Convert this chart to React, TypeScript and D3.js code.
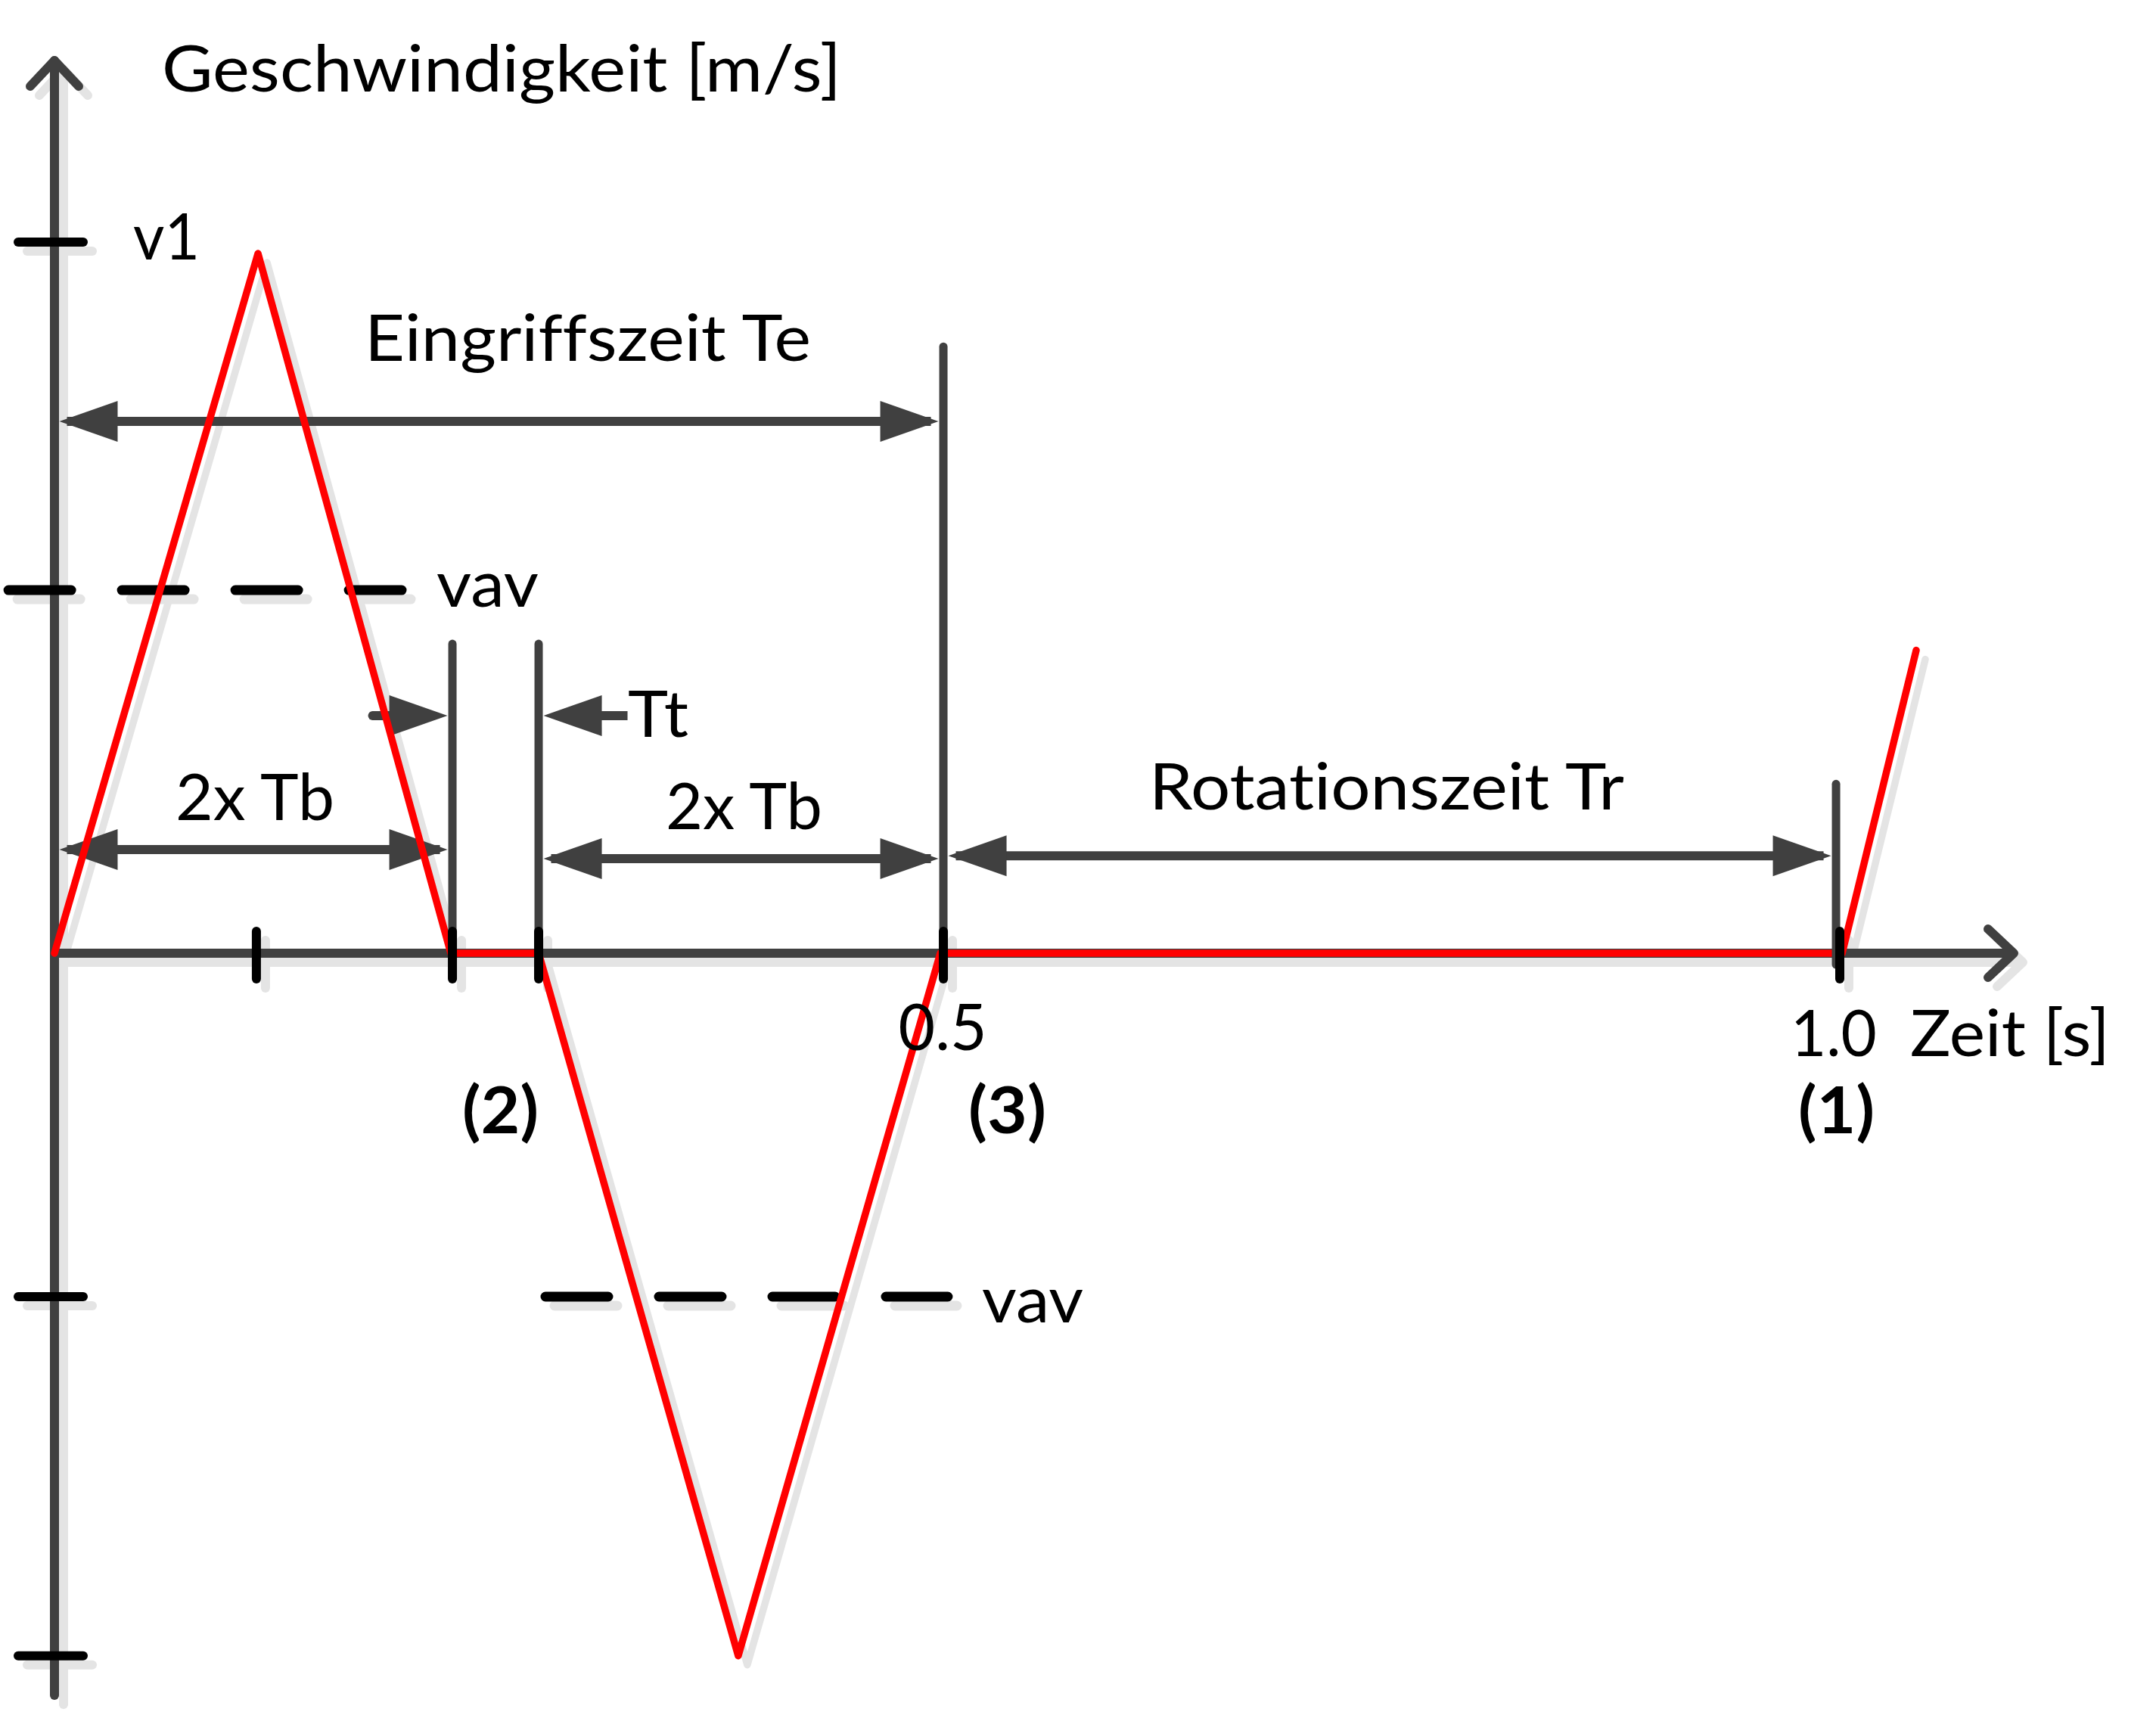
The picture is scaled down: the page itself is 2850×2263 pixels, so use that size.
import React from 'react';
import * as d3 from 'd3';

// ---- data ----
// velocity profile: time [s] and speed (relative to v1)
const profileTime = [0, 0.114, 0.222, 0.2712, 0.383, 0.4962, 1.0013, 1.0428];
const profileSpeed = [0, 0.984, 0, 0, -0.988, 0, 0, 0.426];

// speed axis marks
const speedTickValues = [1, -0.483, -0.988];
const speedTickLabels = ['v1'];
const avgSpeedValues = [0.5106, -0.483];
const avgSpeedLabels = ['vav', 'vav'];
const avgSpeedTimeRanges = [[-0.0258, 0.1945], [0.275, 0.5004]];

// time axis marks
const timeTickValues = [0.1131, 0.2229, 0.2712, 0.4979, 1.0];
const timeTickLabels = ['0.5', '1.0'];
const timeTickLabelValues = [0.4975, 0.9966];
const phaseLabels = ['(2)', '(3)', '(1)'];

// dimension (extension) lines: time and top speed
const extensionTimes = [0.2229, 0.2712, 0.4979, 0.9979];
const extensionTops = [0.435, 0.435, 0.853, 0.238];
const extensionBottoms = [0, 0, 0, -0.016];

// dimension arrows: speed level, start time, end time, label
const dimSpeeds = [0.748, 0.1457, 0.133, 0.137];
const dimStarts = [0, 0, 0.2712, 0.4979];
const dimEnds = [0.4979, 0.2229, 0.4979, 0.9979];
const dimLabels = ['Eingriffszeit Te', '2x Tb', '2x Tb', 'Rotationszeit Tr'];
const ttSpeed = 0.334;

const W = 2850;
const H = 2263;
const GRAY = '#404040';
const RED = '#ff0000';
const BLACK = '#000000';
const SHADOW = '#e4e4e4';
const FONT = 'Lato, "Open Sans", "Noto Sans", sans-serif';

function Label({ x, y, w, text, size = 86, bold = false, anchor = 'start' }: any) {
  return (
    <text
      x={x}
      y={y}
      fontFamily={FONT}
      fontSize={size}
      fontWeight={bold ? 700 : 400}
      fill={BLACK}
      textAnchor={anchor}
      textLength={w}
      lengthAdjust="spacingAndGlyphs"
      style={{ fontVariantLigatures: 'none', fontFeatureSettings: '"liga" 0, "clig" 0, "dlig" 0' }}
    >
      {text}
    </text>
  );
}

export default function App() {
  const x = d3.scaleLinear().domain([0, 1]).range([72, 2432]);
  const y = d3.scaleLinear().domain([0, 1]).range([1260, 320]);
  const line = d3
    .line<number>()
    .x((_, i) => x(profileTime[i]))
    .y((d) => y(d));
  const redPath = line(profileSpeed) as string;

  const x0 = x(0);
  const y0 = y(0);
  const axisTop = 80;
  const axisBottom = 2241;
  const xAxisEnd = 2662;
  const chev = 32;
  const chevY = 34;

  const half = 5.5; // half width of extension lines
  const headL = 77;
  const headW = 27;

  // marks that cast a shadow
  const shadowed = (c: string | null, key: string, part: 'axes' | 'dashes' | 'red' | 'ticks') => {
    const col = (def: string) => (c ? c : def);
    if (part === 'axes')
      return (
        <g key={key + part} fill="none" stroke={col(GRAY)} strokeWidth={12} strokeLinecap="round" strokeLinejoin="round">
          <line x1={x0} y1={axisTop} x2={x0} y2={axisBottom} />
          <polyline points={`${x0 - chev},${axisTop + chevY} ${x0},${axisTop} ${x0 + chev},${axisTop + chevY}`} />
          <line x1={x0} y1={y0} x2={xAxisEnd} y2={y0} strokeLinecap="butt" />
          <polyline points={`${xAxisEnd - chevY},${y0 - chev} ${xAxisEnd},${y0} ${xAxisEnd - chevY},${y0 + chev}`} />
        </g>
      );
    if (part === 'dashes')
      return (
        <g key={key + part} fill="none" stroke={col(BLACK)} strokeWidth={13} strokeLinecap="round">
          {avgSpeedValues.map((v, i) => (
            <line
              key={i}
              x1={x(avgSpeedTimeRanges[i][0])}
              x2={x(avgSpeedTimeRanges[i][1])}
              y1={y(v)}
              y2={y(v)}
              strokeDasharray="83 67"
            />
          ))}
        </g>
      );
    if (part === 'red')
      return <path key={key + part} d={redPath} fill="none" stroke={col(RED)} strokeWidth={9.5} strokeLinejoin="round" strokeLinecap="round" />;
    return (
      <g key={key + part} fill="none" stroke={col(BLACK)} strokeWidth={12} strokeLinecap="round">
        {speedTickValues.map((v, i) => (
          <line key={'s' + i} x1={24} x2={110} y1={y(v)} y2={y(v)} />
        ))}
        {timeTickValues.map((t, i) => (
          <line key={'t' + i} x1={x(t)} x2={x(t)} y1={1231} y2={1294} />
        ))}
      </g>
    );
  };

  const arrowHead = (tipX: number, yy: number, dir: number, k: string) => (
    <polygon
      key={k}
      points={`${tipX},${yy} ${tipX - dir * headL},${yy - headW} ${tipX - dir * headL},${yy + headW}`}
      fill={GRAY}
    />
  );

  const dims = dimSpeeds.map((v, i) => {
    const yy = y(v);
    const a = x(dimStarts[i]) + half + 1;
    const b = x(dimEnds[i]) - half - 1;
    return (
      <g key={'dim' + i}>
        <line x1={a + 10} x2={b - 10} y1={yy} y2={yy} stroke={GRAY} strokeWidth={12} />
        {arrowHead(a, yy, -1, 'l')}
        {arrowHead(b, yy, 1, 'r')}
      </g>
    );
  });

  const ttY = y(ttSpeed);
  const ttL = x(extensionTimes[0]) - half - 1;
  const ttR = x(extensionTimes[1]) + half + 1;

  return (
    <svg
      width={W}
      height={H}
      viewBox={`0 0 ${W} ${H}`}
      style={{ position: 'absolute', left: 0, top: 0, background: '#fff' }}
    >
      <rect x={0} y={0} width={W} height={H} fill="#fff" />
      {/* shadows */}
      <g transform="translate(12,12)">
        {shadowed(SHADOW, 'sh', 'axes')}
        {shadowed(SHADOW, 'sh', 'dashes')}
        {shadowed(SHADOW, 'sh', 'red')}
        {shadowed(SHADOW, 'sh', 'ticks')}
      </g>

      {/* dimension arrows */}
      {dims}
      {/* Tt arrows */}
      <g>
        <line x1={ttL - 99} x2={ttL - 60} y1={ttY} y2={ttY} stroke={GRAY} strokeWidth={12} strokeLinecap="round" />
        {arrowHead(ttL, ttY, 1, 'ttl')}
        <line x1={ttR + 60} x2={ttR + 111} y1={ttY} y2={ttY} stroke={GRAY} strokeWidth={12} />
        {arrowHead(ttR, ttY, -1, 'ttr')}
      </g>

      {shadowed(null, 'm', 'axes')}
      {shadowed(null, 'm', 'dashes')}
      {shadowed(null, 'm', 'red')}

      {/* extension lines */}
      <g stroke={GRAY} strokeWidth={11} strokeLinecap="round">
        {extensionTimes.map((t, i) => (
          <line key={i} x1={x(t)} x2={x(t)} y1={y(extensionTops[i])} y2={y(extensionBottoms[i])} />
        ))}
      </g>
      {shadowed(null, 'm', 'ticks')}

      {/* texts */}
      <Label x={214} y={121} w={898} text="Geschwindigkeit [m/s]" />
      <Label x={176} y={343} w={88} text={speedTickLabels[0]} />
      <Label x={482} y={477} w={590} text={dimLabels[0]} />
      <Label x={577} y={802} w={135} text={avgSpeedLabels[0]} />
      <Label x={830} y={974} w={80} text="Tt" />
      <Label x={232} y={1084} w={210} text={dimLabels[1]} />
      <Label x={880} y={1096} w={207} text={dimLabels[2]} />
      <Label x={1519} y={1070} w={628} text={dimLabels[3]} />
      <Label x={x(timeTickLabelValues[0])} y={1388} w={117} text={timeTickLabels[0]} anchor="middle" />
      <Label x={x(timeTickLabelValues[1])} y={1396} w={114} text={timeTickLabels[1]} anchor="middle" />
      <Label x={2525} y={1396} w={264} text="Zeit [s]" />
      <Label x={611} y={1498} w={101} text={phaseLabels[0]} bold />
      <Label x={1280} y={1498} w={103} text={phaseLabels[1]} bold />
      <Label x={2377} y={1498} w={101} text={phaseLabels[2]} bold />
      <Label x={1298} y={1748} w={134} text={avgSpeedLabels[1]} />
    </svg>
  );
}
